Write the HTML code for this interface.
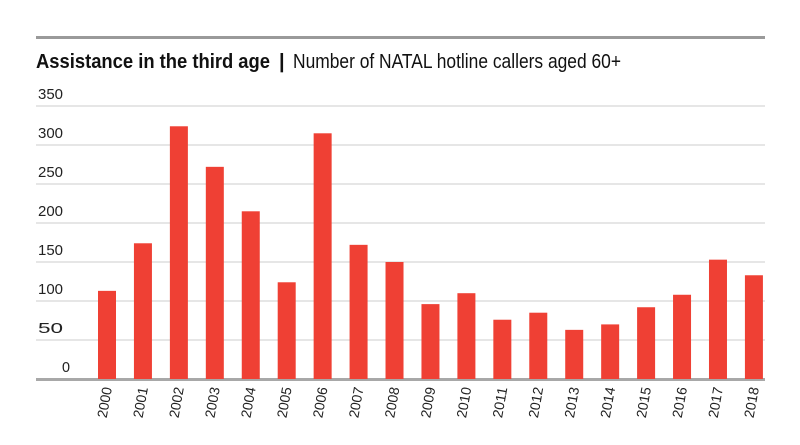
<!DOCTYPE html>
<html><head><meta charset="utf-8"><style>
html,body{margin:0;padding:0;background:#fff;}
svg{display:block;font-family:"Liberation Sans",sans-serif;}
</style></head><body>
<svg id="chart" width="800" height="445" viewBox="0 0 800 445">
<rect x="36" y="36" width="729" height="3" fill="#9a9a9a"/>
<text x="36" y="68" font-size="20" font-weight="bold" fill="#111" textLength="234" lengthAdjust="spacingAndGlyphs">Assistance in the third age</text>
<text x="279" y="68" font-size="20" font-weight="bold" fill="#111">|</text>
<text x="293" y="68" font-size="20" fill="#111" textLength="328" lengthAdjust="spacingAndGlyphs">Number of NATAL hotline callers aged 60+</text>
<g id="grid"></g><g id="bars"></g><g id="xlabels"></g>
</svg>
<script>
const years = ["2000","2001","2002","2003","2004","2005","2006","2007","2008","2009","2010","2011","2012","2013","2014","2015","2016","2017","2018"];
const callers = [113,174,324,272,215,124,315,172,150,96,110,76,85,63,70,92,108,153,133];
const yTicks = [0,50,100,150,200,250,300,350];
const NS="http://www.w3.org/2000/svg";
const y0=379, pxPer=0.78, x0=107, step=35.94, bw=18;
const y=v=>y0-v*pxPer, x=i=>x0+i*step;
const grid=document.getElementById('grid'), bars=document.getElementById('bars'), xl=document.getElementById('xlabels');
yTicks.forEach(t=>{
  const l=document.createElementNS(NS,'rect');
  
  
  l.setAttribute('x',36);l.setAttribute('width',729);
  l.setAttribute('y',t===0?y(t)-1:y(t)-0.5);l.setAttribute('height',t===0?3:1);
  l.setAttribute('fill',t===0?'#a8a8a8':'#cccccc');grid.appendChild(l);
  const tx=document.createElementNS(NS,'text');
  
  
  tx.setAttribute('x',t===0?62:38);tx.setAttribute('y',y(t)-7);
  tx.setAttribute('font-size','15');tx.setAttribute('fill','#222');
  tx.setAttribute('transform','scale(1,1)');
  tx.setAttribute('textLength',t===0?8:25);tx.setAttribute('lengthAdjust','spacingAndGlyphs');
  tx.textContent=t;grid.appendChild(tx);
});
callers.forEach((v,i)=>{
  const r=document.createElementNS(NS,'rect');
  
  
  r.setAttribute('x',x(i)-bw/2);r.setAttribute('width',bw);
  r.setAttribute('y',y(v));r.setAttribute('height',y0-y(v));
  r.setAttribute('fill','#ef4034');bars.appendChild(r);
  const t=document.createElementNS(NS,'text');
  
  
  t.setAttribute('font-size','14');t.setAttribute('fill','#222');
  t.setAttribute('text-anchor','end');
  t.setAttribute('textLength',31);t.setAttribute('lengthAdjust','spacingAndGlyphs');
  t.setAttribute('transform','translate('+(x(i)+5)+',388) rotate(-80)');
  t.textContent=years[i];xl.appendChild(t);
});
</script>
</body></html>
